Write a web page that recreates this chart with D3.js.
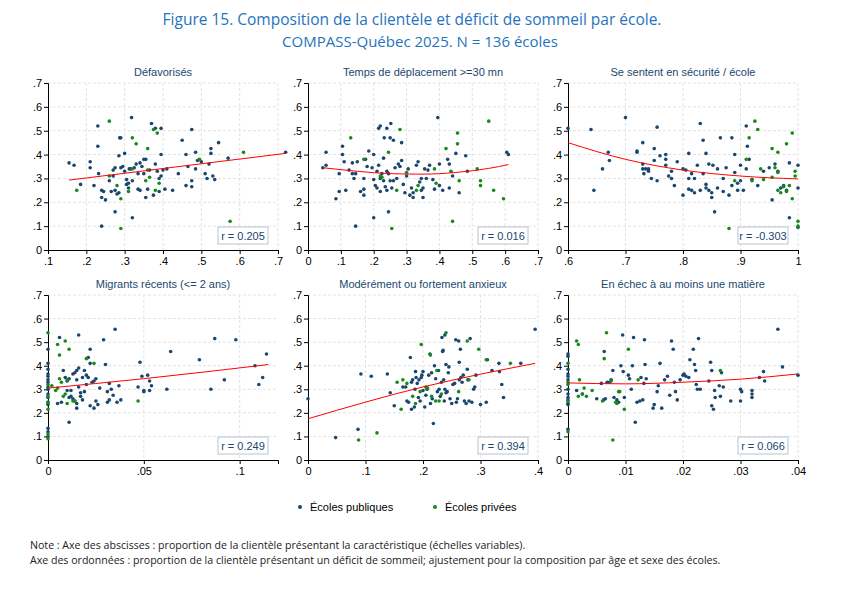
<!DOCTYPE html>
<html><head><meta charset="utf-8">
<script src="https://cdn.jsdelivr.net/npm/d3@7"></script>
<style>body{margin:0;background:#fff}svg{display:block}</style>
</head><body>
<svg id="c" width="850" height="592"></svg>
<script>
// data: [x, y] per school, split publiques / privées
var titles = ["Défavorisés", "Temps de déplacement >=30 mn", "Se sentent en sécurité / école",
  "Migrants récents (<= 2 ans)", "Modérément ou fortement anxieux", "En échec à au moins une matière"]
var rValues = ["0.205", "0.016", "-0.303", "0.249", "0.394", "0.066"]
var xDomains = [[.1,.7],[0,.7],[.6,1],[0,.12],[0,.4],[0,.04]]
var xTicks = [[.1,.2,.3,.4,.5,.6,.7],[0,.1,.2,.3,.4,.5,.6,.7],[.6,.7,.8,.9,1],[0,.05,.1],[0,.1,.2,.3,.4],[0,.01,.02,.03,.04]]
var yTicks = [0,.1,.2,.3,.4,.5,.6,.7]

var fitLines = [
  [[.155,.293],[.72,.405]],
  [[.045,.345],[.15,.33],[.25,.32],[.35,.318],[.45,.325],[.55,.342],[.61,.358]],
  [[.6,.45],[.7,.38],[.8,.335],[.9,.31],[1,.298]],
  [[0,.305],[.05,.345],[.115,.405]],
  [[0,.175],[.2,.31],[.395,.41]],
  [[0,.327],[.01,.323],[.02,.33],[.03,.343],[.04,.365]]
]

var pub1 = [[.155,.365],[.168,.355],[.185,.275],[.21,.37],[.21,.345],[.22,.27],[.23,.52],[.23,.435],[.232,.32],[.24,.25],[.24,.22],[.24,.10],[.245,.245],[.25,.21],[.26,.29],[.265,.245],[.27,.335],[.27,.31],[.275,.345],[.275,.16],[.275,.25],[.28,.235],[.285,.24],[.285,.395],[.287,.47],[.29,.47],[.29,.345],[.295,.35],[.3,.33],[.3,.405],[.305,.295],[.305,.275],[.31,.28],[.31,.26],[.312,.34],[.315,.34],[.318,.555],[.32,.135],[.32,.29],[.325,.345],[.33,.36],[.335,.255],[.335,.32],[.34,.365],[.34,.25],[.345,.35],[.35,.32],[.35,.38],[.355,.22],[.355,.38],[.36,.255],[.365,.335],[.37,.53],[.375,.23],[.38,.51],[.38,.36],[.385,.33],[.39,.30],[.39,.245],[.395,.51],[.395,.40],[.395,.31],[.40,.335],[.405,.255],[.41,.34],[.425,.25],[.44,.32],[.45,.46],[.46,.40],[.46,.27],[.465,.35],[.475,.505],[.475,.265],[.475,.29],[.485,.41],[.485,.34],[.49,.375],[.5,.37],[.51,.32],[.515,.30],[.52,.36],[.525,.405],[.525,.425],[.53,.31],[.535,.295],[.545,.45],[.57,.385],[.72,.41]]
var pri1 = [[.175,.25],[.26,.54],[.26,.31],[.28,.27],[.29,.215],[.29,.09],[.31,.245],[.32,.34],[.32,.47],[.33,.445],[.355,.29],[.36,.425],[.36,.335],[.365,.305],[.375,.505],[.38,.25],[.385,.49],[.39,.28],[.495,.38],[.575,.12],[.61,.41]]

var pub2 = [[.045,.345],[.055,.41],[.055,.355],[.085,.215],[.095,.245],[.095,.32],[.105,.435],[.105,.40],[.11,.37],[.115,.25],[.125,.335],[.135,.365],[.135,.32],[.14,.30],[.145,.10],[.145,.32],[.15,.37],[.16,.245],[.17,.255],[.17,.23],[.17,.30],[.175,.38],[.18,.35],[.185,.415],[.195,.345],[.2,.40],[.2,.295],[.2,.135],[.205,.27],[.21,.26],[.21,.33],[.215,.51],[.215,.355],[.22,.52],[.22,.245],[.22,.30],[.225,.32],[.23,.29],[.23,.385],[.232,.47],[.235,.265],[.24,.51],[.24,.33],[.24,.25],[.245,.16],[.245,.32],[.25,.47],[.25,.29],[.252,.53],[.255,.26],[.26,.46],[.26,.29],[.265,.345],[.27,.30],[.275,.36],[.28,.35],[.285,.375],[.285,.45],[.29,.275],[.295,.24],[.3,.31],[.305,.34],[.31,.23],[.315,.26],[.32,.22],[.32,.24],[.33,.355],[.335,.37],[.34,.285],[.345,.30],[.345,.25],[.35,.26],[.35,.22],[.355,.34],[.36,.30],[.365,.335],[.37,.355],[.38,.295],[.385,.255],[.395,.555],[.4,.27],[.4,.36],[.41,.25],[.425,.38],[.43,.36],[.43,.26],[.44,.31],[.45,.405],[.46,.24],[.48,.395],[.485,.33],[.605,.41],[.61,.40]]
var pri2 = [[.13,.47],[.17,.38],[.245,.41],[.22,.31],[.225,.305],[.255,.09],[.27,.25],[.28,.505],[.3,.325],[.33,.25],[.335,.27],[.385,.34],[.39,.28],[.42,.425],[.435,.33],[.44,.12],[.455,.445],[.455,.49],[.46,.29],[.515,.34],[.525,.29],[.525,.27],[.55,.54],[.565,.25],[.595,.215]]

var pub3 = [[.6,.51],[.64,.505],[.645,.25],[.66,.34],[.67,.41],[.672,.375],[.7,.555],[.72,.415],[.72,.41],[.73,.45],[.73,.36],[.73,.34],[.732,.32],[.735,.34],[.74,.33],[.74,.34],[.745,.30],[.75,.375],[.75,.425],[.755,.515],[.755,.29],[.76,.395],[.77,.355],[.77,.38],[.77,.40],[.775,.31],[.78,.30],[.78,.33],[.785,.27],[.79,.37],[.8,.23],[.8,.34],[.805,.335],[.81,.405],[.81,.30],[.81,.255],[.815,.32],[.815,.25],[.82,.30],[.82,.24],[.825,.355],[.83,.25],[.83,.53],[.835,.46],[.835,.32],[.84,.26],[.84,.405],[.84,.275],[.845,.25],[.845,.36],[.85,.24],[.85,.22],[.852,.355],[.855,.16],[.86,.26],[.86,.34],[.865,.47],[.87,.245],[.87,.30],[.875,.345],[.88,.23],[.885,.47],[.885,.27],[.89,.325],[.89,.40],[.895,.28],[.895,.25],[.9,.355],[.9,.29],[.905,.25],[.91,.34],[.91,.52],[.912,.435],[.915,.38],[.92,.295],[.93,.27],[.94,.33],[.95,.345],[.955,.21],[.96,.36],[.965,.33],[.97,.26],[.975,.27],[.98,.25],[.985,.135],[.985,.365],[1,.355],[1,.26],[1,.095]]
var pri3 = [[.88,.09],[.89,.29],[.91,.38],[.915,.47],[.92,.29],[.925,.54],[.93,.505],[.935,.34],[.94,.295],[.955,.305],[.955,.425],[.96,.345],[.965,.41],[.965,.325],[.965,.25],[.97,.24],[.975,.265],[.98,.245],[.98,.445],[.985,.27],[.99,.215],[.99,.49],[.995,.31],[.995,.33],[1,.12],[1,.10]]

var pub4 = [[0,.47],[0,.41],[0,.385],[0,.365],[0,.355],[0,.34],[0,.33],[0,.31],[0,.30],[0,.28],[0,.265],[0,.245],[0,.235],[0,.135],[0,.12],[0,.10],[.005,.24],[.006,.52],[.007,.245],[.008,.38],[.009,.35],[.01,.335],[.01,.295],[.011,.345],[.011,.16],[.011,.265],[.012,.295],[.012,.27],[.013,.26],[.013,.365],[.014,.37],[.014,.25],[.015,.38],[.015,.34],[.015,.24],[.015,.22],[.016,.53],[.016,.39],[.016,.31],[.017,.285],[.017,.27],[.018,.35],[.018,.255],[.019,.29],[.019,.38],[.02,.36],[.02,.32],[.021,.35],[.021,.435],[.022,.47],[.022,.41],[.022,.23],[.023,.33],[.024,.22],[.024,.335],[.025,.345],[.025,.25],[.026,.235],[.027,.305],[.029,.51],[.03,.405],[.031,.245],[.031,.29],[.032,.325],[.032,.255],[.033,.30],[.034,.275],[.035,.555],[.036,.245],[.037,.315],[.038,.255],[.047,.31],[.048,.415],[.049,.355],[.05,.29],[.05,.295],[.052,.36],[.053,.335],[.053,.295],[.054,.315],[.062,.30],[.064,.46],[.079,.425],[.085,.30],[.087,.515],[.092,.34],[.098,.51],[.108,.40],[.11,.32],[.112,.35],[.114,.45]]
var pri4 = [[0,.54],[0,.32],[0,.27],[0,.245],[0,.215],[0,.11],[0,.09],[.002,.315],[.004,.295],[.005,.305],[.005,.49],[.006,.445],[.006,.345],[.007,.33],[.008,.27],[.009,.505],[.009,.28],[.01,.24],[.01,.34],[.011,.47],[.013,.25],[.014,.25],[.02,.43],[.024,.41],[.047,.25]]

var pub5 = [[0,.26],[.048,.095],[.087,.13],[.092,.365],[.11,.355],[.138,.365],[.143,.285],[.15,.23],[.165,.31],[.17,.31],[.172,.25],[.175,.245],[.178,.435],[.18,.215],[.18,.33],[.182,.34],[.185,.225],[.186,.30],[.187,.375],[.188,.35],[.19,.325],[.192,.265],[.193,.34],[.195,.25],[.197,.35],[.198,.36],[.2,.375],[.2,.295],[.203,.225],[.205,.275],[.207,.30],[.21,.36],[.212,.45],[.213,.24],[.215,.37],[.216,.26],[.218,.155],[.22,.40],[.222,.345],[.225,.29],[.227,.38],[.228,.30],[.23,.27],[.232,.33],[.233,.52],[.234,.46],[.235,.465],[.236,.34],[.237,.25],[.238,.53],[.238,.30],[.24,.405],[.24,.285],[.242,.29],[.244,.37],[.245,.395],[.247,.26],[.25,.24],[.252,.32],[.255,.325],[.257,.51],[.258,.245],[.26,.26],[.262,.505],[.263,.415],[.263,.34],[.265,.47],[.266,.35],[.268,.33],[.27,.36],[.272,.25],[.275,.24],[.277,.385],[.278,.34],[.28,.25],[.282,.515],[.285,.245],[.288,.30],[.29,.31],[.292,.36],[.3,.235],[.31,.245],[.312,.425],[.32,.38],[.332,.41],[.333,.375],[.337,.32],[.34,.265],[.37,.41],[.395,.555]]
var pri5 = [[.088,.085],[.12,.115],[.155,.33],[.162,.215],[.165,.34],[.172,.325],[.182,.27],[.187,.24],[.195,.29],[.197,.49],[.205,.31],[.208,.305],[.213,.445],[.215,.27],[.222,.25],[.224,.38],[.228,.25],[.232,.28],[.24,.54],[.262,.29],[.277,.505],[.28,.34],[.297,.47],[.31,.425],[.352,.41]]

var pub6 = [[0,.45],[0,.44],[0,.385],[0,.365],[0,.355],[0,.34],[0,.30],[0,.28],[0,.265],[0,.255],[0,.24],[0,.235],[0,.13],[.0015,.295],[.0025,.28],[.005,.26],[.0058,.325],[.0062,.255],[.0063,.46],[.0065,.26],[.0068,.33],[.0072,.33],[.0075,.34],[.0078,.38],[.008,.265],[.0085,.255],[.0088,.245],[.0092,.40],[.0095,.53],[.0096,.375],[.0098,.265],[.0105,.36],[.0107,.345],[.011,.30],[.0112,.40],[.0114,.52],[.0117,.16],[.012,.245],[.0125,.25],[.0127,.35],[.013,.255],[.0132,.325],[.0133,.51],[.0134,.405],[.0136,.345],[.0148,.22],[.015,.235],[.0155,.29],[.0157,.315],[.016,.41],[.0163,.22],[.0168,.34],[.0173,.355],[.0177,.275],[.018,.505],[.0183,.47],[.0185,.33],[.0187,.29],[.019,.255],[.0195,.34],[.02,.36],[.0202,.365],[.0205,.355],[.021,.35],[.0212,.425],[.0218,.47],[.022,.405],[.0222,.38],[.0223,.32],[.0225,.30],[.0227,.515],[.023,.30],[.0245,.335],[.0248,.415],[.025,.38],[.025,.23],[.0253,.215],[.0255,.295],[.0256,.265],[.0263,.315],[.0265,.27],[.0267,.37],[.027,.31],[.0283,.25],[.03,.30],[.03,.25],[.0302,.29],[.032,.295],[.032,.28],[.032,.265],[.0333,.35],[.034,.375],[.0342,.335],[.0365,.555],[.0373,.395],[.04,.36]]
var pri6 = [[0,.41],[0,.33],[0,.32],[0,.25],[0,.12],[.0015,.505],[.0018,.49],[.0018,.27],[.002,.34],[.0025,.28],[.0028,.305],[.0032,.27],[.0042,.295],[.006,.25],[.0063,.43],[.0067,.54],[.0075,.335],[.0078,.085],[.0083,.245],[.0085,.24],[.0088,.29],[.009,.29],[.0098,.215],[.0105,.47],[.0122,.34],[.0265,.38]]

var publics = [pub1, pub2, pub3, pub4, pub5, pub6]
var privates = [pri1, pri2, pri3, pri4, pri5, pri6]

var BLUE = "#1a476f", GREEN = "#178a17", TITLE = "#1f74bd", FONT = "'Liberation Sans', Arial, sans-serif"

var svg = d3.select("#c")

// main title
svg.append("text").attr("x", 412).attr("y", 25).attr("text-anchor", "middle")
  .attr("font-family", "'Open Sans', sans-serif").attr("font-size", 15.5).attr("fill", TITLE)
  .text("Figure 15. Composition de la clientèle et déficit de sommeil par école.")
svg.append("text").attr("x", 420).attr("y", 47).attr("text-anchor", "middle")
  .attr("font-family", "'Open Sans', sans-serif").attr("font-size", 15).attr("fill", TITLE)
  .text("COMPASS-Québec 2025. N = 136 écoles")

var colX = [48, 308, 568], rowTop = [83, 295], rowBottom = [250, 460], W = 230

titles.forEach(function(t, i) {
  var left = colX[i % 3], top = rowTop[Math.floor(i / 3)], bottom = rowBottom[Math.floor(i / 3)]
  var x = d3.scaleLinear().domain(xDomains[i]).range([left, left + W])
  var y = d3.scaleLinear().domain([0, .7]).range([bottom, top])
  var g = svg.append("g")

  // dashed grid
  g.selectAll("line.gy").data(yTicks.slice(1)).join("line")
    .attr("x1", left).attr("x2", left + W).attr("y1", y).attr("y2", y)
    .attr("stroke", "#e3e3e3").attr("stroke-dasharray", "3,2")
  g.selectAll("line.gx").data(xTicks[i].filter(function(v){ return v !== xDomains[i][0] })).join("line")
    .attr("y1", top).attr("y2", bottom).attr("x1", x).attr("x2", x)
    .attr("stroke", "#e3e3e3").attr("stroke-dasharray", "3,2")

  var fmt = function(v) { return v === 0 ? "0" : (v === 1 ? "1" : String(v).replace(/^0/, "")) }

  var ax = g.append("g").attr("transform", "translate(0," + bottom + ")")
    .call(d3.axisBottom(x).tickValues(xTicks[i]).tickFormat(fmt).tickSize(4))
  var ay = g.append("g").attr("transform", "translate(" + left + ",0)")
    .call(d3.axisLeft(y).tickValues(yTicks).tickFormat(fmt).tickSize(4))
  ;[ax, ay].forEach(function(a) {
    a.selectAll("text").attr("font-family", FONT).attr("font-size", 11).attr("fill", "#000")
    a.select(".domain").attr("stroke", "#000")
  })
  ay.selectAll("text").attr("dx", "0.1em")

  g.append("text").attr("x", left + W / 2).attr("y", top - 7).attr("text-anchor", "middle")
    .attr("font-family", FONT).attr("font-size", 11).attr("fill", BLUE).text(t)

  g.selectAll("circle.pub").data(publics[i]).join("circle")
    .attr("cx", function(d){ return x(d[0]) }).attr("cy", function(d){ return y(d[1]) })
    .attr("r", 1.8).attr("fill", BLUE)
  g.selectAll("circle.pri").data(privates[i]).join("circle")
    .attr("cx", function(d){ return x(d[0]) }).attr("cy", function(d){ return y(d[1]) })
    .attr("r", 1.8).attr("fill", GREEN)

  g.append("path").datum(fitLines[i])
    .attr("d", d3.line().x(function(d){ return x(d[0]) }).y(function(d){ return y(d[1]) }).curve(d3.curveMonotoneX))
    .attr("fill", "none").attr("stroke", "#f00").attr("stroke-width", 1)

  // r box
  g.append("rect").attr("x", left + W - 60).attr("y", bottom - 23).attr("width", 50).attr("height", 17)
    .attr("fill", "#fff").attr("stroke", "#b7c4d2")
  g.append("text").attr("x", left + W - 35).attr("y", bottom - 10.5).attr("text-anchor", "middle")
    .attr("font-family", FONT).attr("font-size", 11).attr("fill", BLUE).text("r = " + rValues[i])
})

// legend
var legend = [["Écoles publiques", BLUE, 300], ["Écoles privées", GREEN, 435]]
legend.forEach(function(l) {
  svg.append("circle").attr("cx", l[2]).attr("cy", 507).attr("r", 2).attr("fill", l[1])
  svg.append("text").attr("x", l[2] + 10).attr("y", 511).attr("font-family", FONT)
    .attr("font-size", 11).attr("fill", "#000").text(l[0])
})

// notes
var notes = ["Note : Axe des abscisses : proportion de la clientèle présentant la caractéristique (échelles variables).",
  "Axe des ordonnées : proportion de la clientèle présentant un déficit de sommeil; ajustement pour la composition par âge et sexe des écoles."]
notes.forEach(function(n, k) {
  svg.append("text").attr("x", 30).attr("y", 549 + k * 15).attr("font-family", "'Open Sans', sans-serif")
    .attr("font-size", 10.6).attr("fill", "#222").text(n)
})
</script>
</body></html>
